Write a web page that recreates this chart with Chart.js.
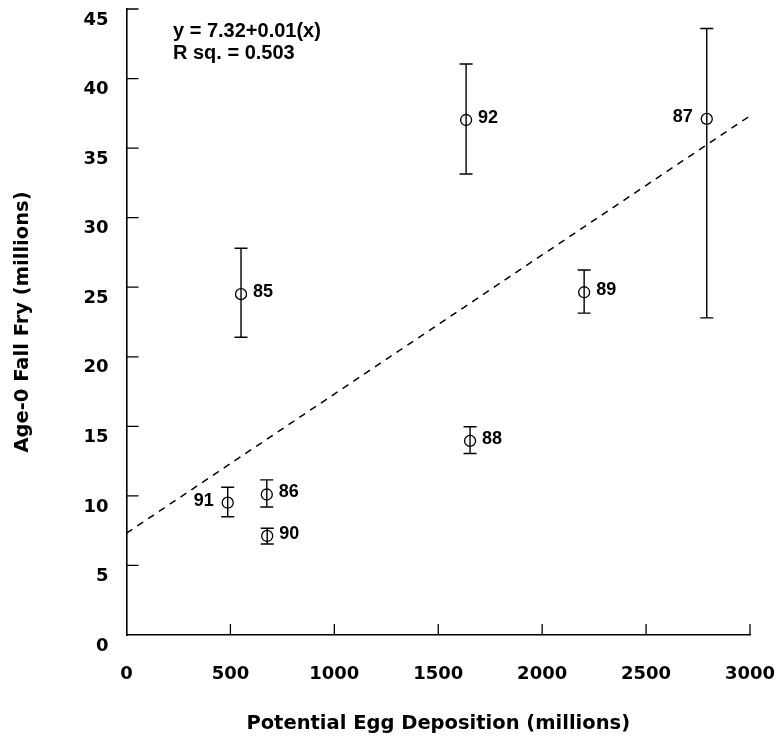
<!DOCTYPE html>
<html>
<head>
<meta charset="utf-8">
<script src="https://cdn.jsdelivr.net/npm/chart.js@4.4.1/dist/chart.umd.min.js"></script>
<style>
  html, body { margin: 0; padding: 0; background: #fff; }
  #wrap { width: 778px; height: 745px; }
</style>
</head>
<body>
<div id="wrap"><canvas id="fry" width="778" height="745"></canvas></div>
<script>
// spawning years, egg deposition (millions) and age-0 fall fry (millions) with error limits
const years = ['85', '86', '87', '88', '89', '90', '91', '92'];
const eggs = [551, 675, 2792, 1653, 2202, 677, 487, 1634];
const fry = [24.5, 10.1, 37.1, 13.95, 24.64, 7.12, 9.51, 37.02];
const fryLow = [21.4, 9.2, 22.8, 13.05, 23.14, 6.54, 8.5, 33.14];
const fryHigh = [27.8, 11.15, 43.6, 14.97, 26.24, 7.67, 10.62, 41.05];
const labelLeft = ['87', '91'];

// fitted line y = 7.32 + 0.01x
const intercept = 7.32;
const slope = 0.01;
const xRange = [0, 3000];

const tickFont = { family: 'DejaVu Sans', size: 18, weight: 'bold' };
const titleFont = { family: 'DejaVu Sans', size: 19.5, weight: 'bold' };

const points = eggs.map((x, i) => ({ x: x, y: fry[i] }));
const fitLine = xRange.map(x => ({ x: x, y: intercept + slope * x }));

const errorBars = {
    id: 'errorBars',
    beforeDatasetsDraw(chart) {
        const { ctx, scales: { x, y } } = chart;
        ctx.save();
        ctx.strokeStyle = '#000';
        ctx.lineWidth = 1.4;
        eggs.forEach((e, i) => {
            const px = x.getPixelForValue(e);
            const lo = y.getPixelForValue(fryLow[i]);
            const hi = y.getPixelForValue(fryHigh[i]);
            ctx.beginPath();
            ctx.moveTo(px, lo);
            ctx.lineTo(px, hi);
            ctx.moveTo(px - 6.5, lo);
            ctx.lineTo(px + 6.5, lo);
            ctx.moveTo(px - 6.5, hi);
            ctx.lineTo(px + 6.5, hi);
            ctx.stroke();
        });
        ctx.restore();
    }
};

// tick marks point into the plot
const innerTicks = {
    id: 'innerTicks',
    afterDraw(chart) {
        const { ctx, chartArea, scales: { x, y } } = chart;
        ctx.save();
        ctx.strokeStyle = '#000';
        ctx.lineWidth = 1.3;
        ctx.beginPath();
        y.ticks.forEach(t => {
            if (t.value === 0) return;
            const py = y.getPixelForValue(t.value);
            ctx.moveTo(chartArea.left, py);
            ctx.lineTo(chartArea.left + 12, py);
        });
        x.ticks.forEach(t => {
            if (t.value === 0) return;
            const px = x.getPixelForValue(t.value);
            ctx.moveTo(px, chartArea.bottom);
            ctx.lineTo(px, chartArea.bottom - 11);
        });
        ctx.stroke();
        ctx.restore();
    }
};

const annotations = {
    id: 'annotations',
    afterDraw(chart) {
        const { ctx, scales: { x, y } } = chart;
        ctx.save();
        ctx.fillStyle = '#000';
        ctx.textBaseline = 'middle';
        ctx.font = 'bold 18px "Liberation Sans", Arial, sans-serif';
        years.forEach((yr, i) => {
            const px = x.getPixelForValue(eggs[i]);
            const py = y.getPixelForValue(fry[i]) - 2;
            if (labelLeft.includes(yr)) {
                ctx.textAlign = 'right';
                ctx.fillText(yr, px - 14, py);
            } else {
                ctx.textAlign = 'left';
                ctx.fillText(yr, px + 12, py);
            }
        });
        ctx.textAlign = 'left';
        ctx.font = 'bold 20px "Liberation Sans", Arial, sans-serif';
        ctx.fillText('y = ' + intercept.toFixed(2) + '+' + slope.toFixed(2) + '(x)', 173, 31);
        ctx.fillText('R sq. = 0.503', 173, 53);
        ctx.restore();
    }
};

new Chart(document.getElementById('fry'), {
    type: 'scatter',
    data: {
        datasets: [
            {
                data: points,
                pointRadius: 5.5,
                pointHoverRadius: 5.5,
                pointBorderColor: '#000',
                pointBackgroundColor: 'rgba(0,0,0,0)',
                pointBorderWidth: 1.3,
                showLine: false
            },
            {
                type: 'line',
                data: fitLine,
                borderColor: '#000',
                borderWidth: 1.5,
                borderDash: [7, 6],
                pointRadius: 0,
                fill: false
            }
        ]
    },
    options: {
        responsive: false,
        animation: false,
        layout: { padding: { top: 9, right: 28, left: 0, bottom: 0 } },
        plugins: {
            legend: { display: false },
            tooltip: { enabled: false }
        },
        scales: {
            x: {
                type: 'linear',
                min: 0,
                max: 3000,
                ticks: {
                    stepSize: 500,
                    color: '#000',
                    font: tickFont,
                    padding: 29,
                    maxRotation: 0,
                    callback: v => String(v)
                },
                grid: { drawOnChartArea: false, drawTicks: false },
                border: { color: '#000', width: 1.6 },
                title: {
                    display: true,
                    text: 'Potential Egg Deposition (millions)',
                    color: '#000',
                    font: titleFont,
                    padding: { top: 0, bottom: 9 }
                },
                afterFit(s) {
                    s.height = 110;
                    s.paddingLeft = 0;
                    s.paddingRight = 0;
                }
            },
            y: {
                type: 'linear',
                min: 0,
                max: 45,
                ticks: { stepSize: 5, color: '#000', font: tickFont, padding: 18, labelOffset: 11 },
                grid: { drawOnChartArea: false, drawTicks: false },
                border: { color: '#000', width: 1.6 },
                title: {
                    display: true,
                    text: 'Age-0 Fall Fry (millions)',
                    color: '#000',
                    font: titleFont,
                    padding: { top: 11, bottom: 0 }
                },
                afterFit(s) {
                    s.width = 126.5;
                    s.paddingTop = 0;
                    s.paddingBottom = 0;
                }
            }
        }
    },
    plugins: [errorBars, innerTicks, annotations]
});
</script>
</body>
</html>
